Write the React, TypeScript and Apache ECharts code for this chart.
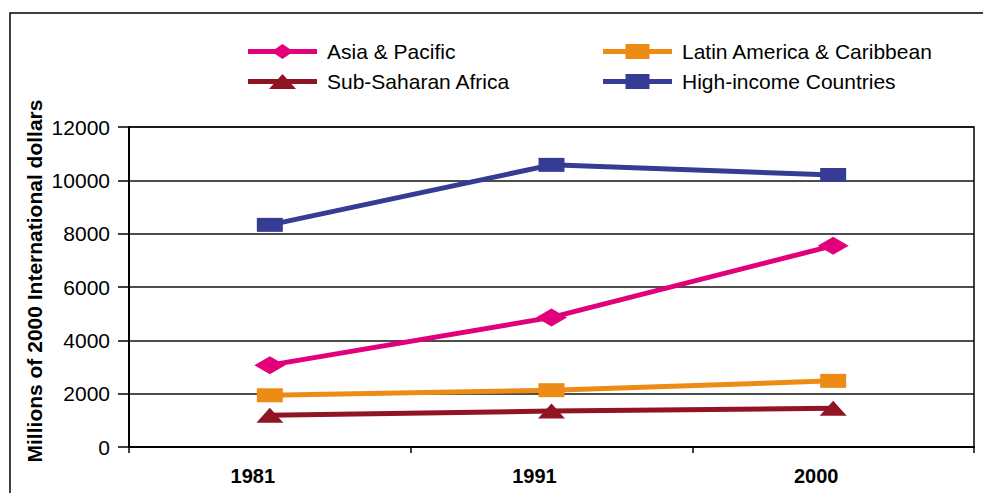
import React, { useEffect, useRef } from "react";
import * as echarts from "echarts";

const years = ["1981", "1991", "2000"];
const asiaPacific = [3070, 4860, 7550];
const latinAmerica = [1940, 2130, 2480];
const subSaharan = [1190, 1350, 1450];
const highIncome = [8330, 10580, 10200];
const yTicks = { min: 0, max: 12000, interval: 2000 };
const yAxisTitle = "Millions of 2000 International dollars";

const FONT = "'Liberation Sans', Arial, Helvetica, sans-serif";

const LINE_BAR = "M0 5H69V10H0Z ";
const ICON_DIAMOND = "path://" + LINE_BAR + "M23.5 7.5L34.5 0L45.5 7.5L34.5 15Z";
const ICON_TRIANGLE = "path://" + LINE_BAR + "M21 15L34.5 0L48 15Z";
const ICON_SQUARE = "path://" + LINE_BAR + "M22.5 0H46.5V15H22.5Z";

export default function App() {
  const ref = useRef<HTMLDivElement>(null);
  useEffect(() => {
    if (!ref.current) return;
    const chart = echarts.init(ref.current, undefined, { renderer: "svg" });
    const legendCommon = {
      orient: "vertical" as const,
      top: 41,
      padding: 0,
      itemWidth: 69,
      itemHeight: 15,
      itemGap: 9,
      symbolKeepAspect: false,
      textStyle: { fontFamily: FONT, fontSize: 21, color: "#000", lineHeight: 21, padding: [0, 0, 0, 5] },
    };
    chart.setOption({
      animation: false,
      backgroundColor: "#fff",
      textStyle: { fontFamily: FONT },
      graphic: [
        {
          type: "rect",
          shape: { x: 10, y: 13, width: 1000, height: 500 },
          style: { fill: "none", stroke: "#000", lineWidth: 1.5 },
          silent: true,
          z: -1,
        },
        {
          type: "text",
          x: 34,
          y: 281,
          rotation: Math.PI / 2,
          style: {
            text: yAxisTitle,
            fill: "#000",
            font: "bold 21px " + FONT,
            textAlign: "center",
            textVerticalAlign: "middle",
          },
          silent: true,
        },
      ],
      legend: [
        {
          ...legendCommon,
          left: 248,
          data: [
            { name: "Asia & Pacific", icon: ICON_DIAMOND },
            { name: "Sub-Saharan Africa", icon: ICON_TRIANGLE },
          ],
        },
        {
          ...legendCommon,
          left: 603,
          data: [
            { name: "Latin America & Caribbean", icon: ICON_SQUARE },
            { name: "High-income Countries", icon: ICON_SQUARE },
          ],
        },
      ],
      grid: {
        left: 129,
        top: 127,
        right: 9,
        bottom: 46,
        show: true,
        borderColor: "#000",
        borderWidth: 1.5,
        backgroundColor: "transparent",
      },
      xAxis: {
        type: "category",
        data: years,
        boundaryGap: true,
        axisLine: { lineStyle: { color: "#000", width: 2 } },
        axisTick: { show: true, length: 6, lineStyle: { color: "#000", width: 1.5 } },
        axisLabel: {
          color: "#000",
          fontWeight: "bold",
          fontSize: 20,
          margin: 19,
          fontFamily: FONT,
          padding: [0, 34, 0, 0],
        },
        splitLine: { show: false },
      },
      yAxis: {
        type: "value",
        min: yTicks.min,
        max: yTicks.max,
        interval: yTicks.interval,
        axisLine: { show: true, lineStyle: { color: "#000", width: 2 } },
        axisTick: { show: true, length: 11, lineStyle: { color: "#000", width: 1.5 } },
        axisLabel: {
          color: "#000",
          fontSize: 21,
          margin: 19,
          fontFamily: FONT,
          formatter: (v: number) => String(v),
        },
        splitLine: { show: true, lineStyle: { color: "#111", width: 1.5 } },
      },
      series: [
        {
          name: "Asia & Pacific",
          type: "line",
          data: asiaPacific,
          symbol: "diamond",
          symbolSize: [31, 18],
          lineStyle: { color: "#E2007A", width: 5 },
          itemStyle: { color: "#E2007A" },
          z: 3,
        },
        {
          name: "Sub-Saharan Africa",
          type: "line",
          data: subSaharan,
          symbol: "triangle",
          symbolSize: [27, 15],
          lineStyle: { color: "#901424", width: 5 },
          itemStyle: { color: "#901424" },
          z: 3,
        },
        {
          name: "Latin America & Caribbean",
          type: "line",
          data: latinAmerica,
          symbol: "rect",
          symbolSize: [26, 14],
          lineStyle: { color: "#EE8B14", width: 5 },
          itemStyle: { color: "#EE8B14" },
          z: 3,
        },
        {
          name: "High-income Countries",
          type: "line",
          data: highIncome,
          symbol: "rect",
          symbolSize: [26, 14],
          lineStyle: { color: "#363C93", width: 5 },
          itemStyle: { color: "#363C93" },
          z: 3,
        },
      ],
    });
    return () => chart.dispose();
  }, []);
  return (
    <div
      ref={ref}
      style={{ position: "fixed", left: 0, top: 0, width: 983, height: 493 }}
    />
  );
}
